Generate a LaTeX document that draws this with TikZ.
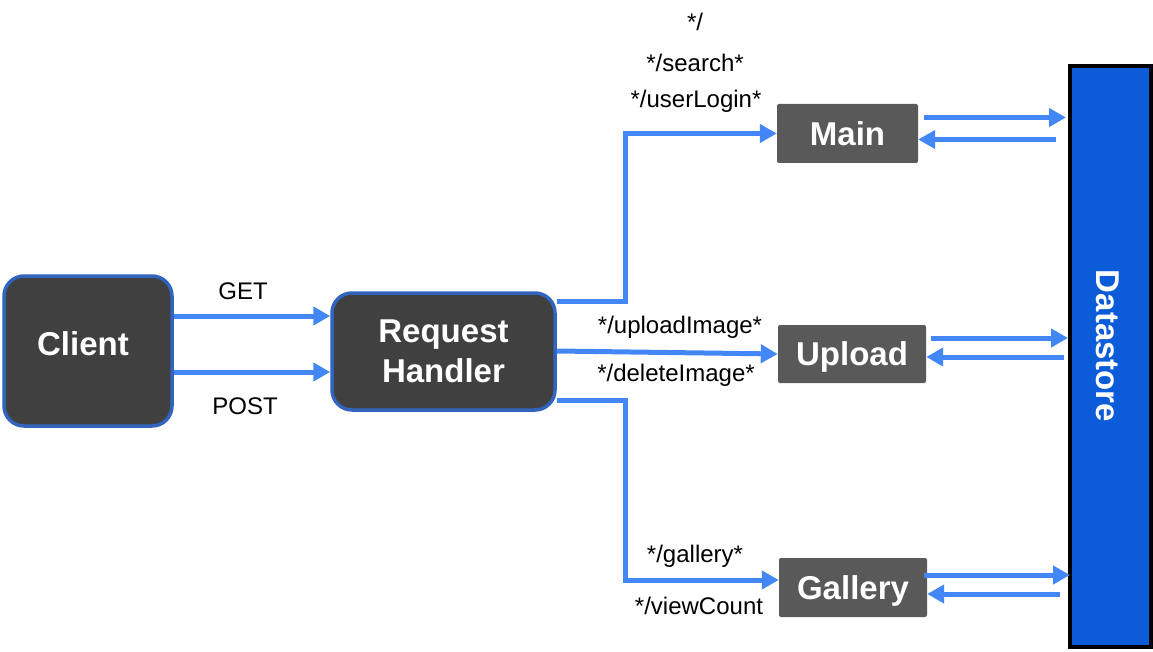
\documentclass[tikz,border=0pt]{standalone}
\usepackage{fontspec}
\setmainfont{Liberation Sans}
\usetikzlibrary{arrows.meta,calc}
\definecolor{conncol}{RGB}{66,135,245}
\definecolor{darkfill}{RGB}{64,64,64}
\definecolor{bordblue}{RGB}{50,100,190}
\definecolor{svcfill}{RGB}{89,89,89}
\definecolor{dsfill}{RGB}{12,92,218}
\tikzset{
  bigbox/.style={draw=bordblue, line width=3.5pt, fill=darkfill, rounded corners=20pt,
    text=white, font=\fontsize{33}{40}\selectfont\bfseries, align=center, inner sep=0pt},
  svcbox/.style={fill=svcfill, rounded corners=2pt, text=white,
    font=\fontsize{33}{40}\selectfont\bfseries, inner sep=0pt, text height=23.6pt, text depth=0pt},
  dsbox/.style={draw=black, line width=4pt, fill=dsfill, inner sep=0pt},
  conn/.style={draw=conncol, line width=5pt, -{Triangle[length=17pt,width=18pt]}},
  lbl/.style={font=\fontsize{24}{28}\selectfont, inner sep=0pt}
}
\begin{document}
\begin{tikzpicture}[x=1pt,y=-1pt]
\useasboundingbox (0,0) rectangle (1153,652);
% nodes
\node[bigbox, minimum width=168pt, minimum height=150pt] (client) at (88,351) {};
\node[text=white, font=\fontsize{33}{40}\selectfont\bfseries, inner sep=0pt] (clienttext) at (83,344) {Client};
\node[bigbox, minimum width=223pt, minimum height=117pt] (rh) at (443.5,351.5) {Request\\Handler};
\node[svcbox, minimum width=141pt, minimum height=59pt] (main) at (847.5,133.5) {Main};
\node[svcbox, minimum width=148pt, minimum height=58pt] (upload) at (852,354) {Upload};
\node[svcbox, minimum width=148pt, minimum height=59pt] (gallery) at (853,587.5) {Gallery};
\node[dsbox, minimum width=81pt, minimum height=581pt] (ds) at (1110.5,356.5) {};
\node[rotate=-90, text=white, font=\fontsize{33}{40}\selectfont\bfseries, inner sep=0pt] (dslabel) at (1108,346) {Datastore};
% labels
\node[lbl] (lget) at (243,291) {GET};
\node[lbl] (lpost) at (245,406) {POST};
\node[lbl] (lroot) at (695,22) {*/};
\node[lbl] (lsearch) at (695,63) {*/search*};
\node[lbl] (llogin) at (696,101) {*/userLogin*};
\node[lbl] (lup) at (680,327) {*/uploadImage*};
\node[lbl] (ldel) at (676,375) {*/deleteImage*};
\node[lbl] (lgal) at (695,556) {*/gallery*};
\node[lbl] (lview) at (699,606) {*/viewCount};
% client to handler
\draw[conn] (client.east |- 0,316) -- (rh.west |- 0,316);
\draw[conn] (client.east |- 0,372) -- (rh.west |- 0,372);
% handler to services
\draw[conn, line join=miter] (rh.east |- 0,301) -| (625,0 |- main.west) -- (main.west);
\draw[conn] (rh.east |- 0,351) -- (upload.west);
\draw[conn, line join=miter] (rh.east |- 0,400) -| (625,580) -- (gallery.west |- 0,580);
% services to datastore
\draw[conn] ($(main.east)+(6,-16)$) -- ($(main.east -| ds.west)+(-2,-16)$);
\draw[conn] ($(main.east -| ds.west)+(-12,6)$) -- ($(main.east)+(0,6)$);
\draw[conn] ($(upload.east)+(5,-16)$) -- ($(upload.east -| ds.west)+(0,-16)$);
\draw[conn] ($(upload.east -| ds.west)+(-4,3)$) -- ($(upload.east)+(0,3)$);
\draw[conn] ($(gallery.east)+(-3,-12.5)$) -- ($(gallery.east -| ds.west)+(2,-12.5)$);
\draw[conn] ($(gallery.east -| ds.west)+(-8,6.5)$) -- ($(gallery.east)+(0,6.5)$);
\end{tikzpicture}
\end{document}
